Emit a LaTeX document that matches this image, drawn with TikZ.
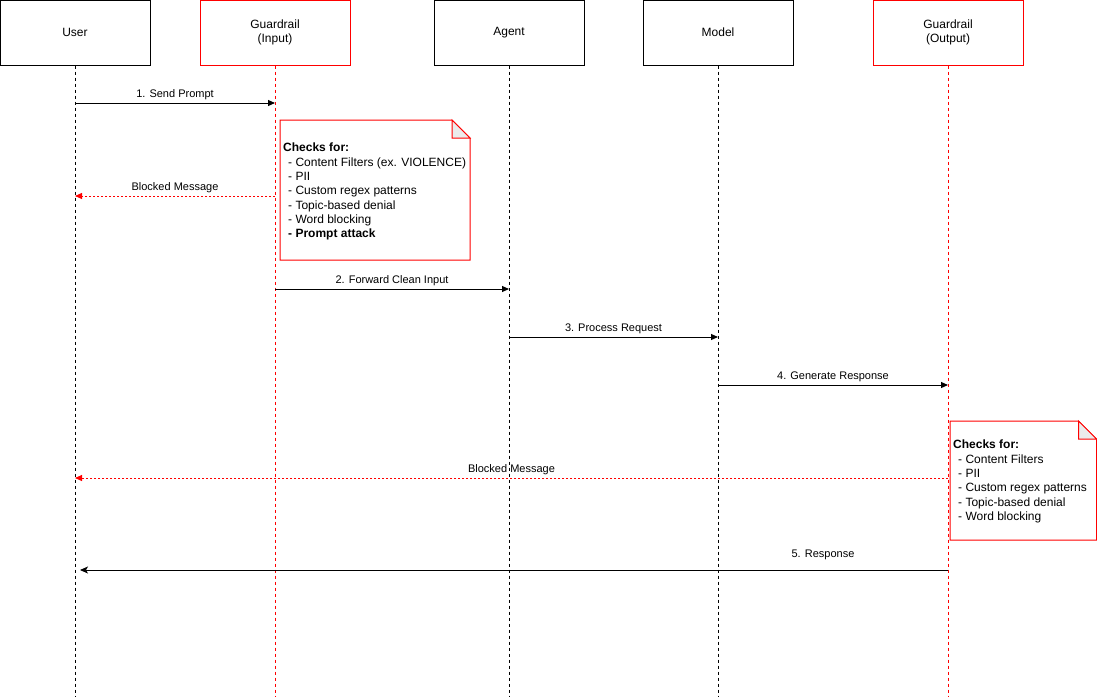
\documentclass[tikz,border=0pt]{standalone}
\usepackage{fontspec}
\setmainfont{Liberation Sans}
\usetikzlibrary{arrows.meta}

\definecolor{guardred}{RGB}{255,0,0}
\definecolor{foldgray}{RGB}{235,235,235}

\tikzset{
  actor/.style={draw, line width=1pt, minimum width=150, minimum height=65, inner sep=0pt, align=center, font=\fontsize{12}{14}\selectfont},
  guard/.style={actor, draw=guardred},
  lifeline/.style={line width=0.8pt, dash pattern=on 3pt off 3pt},
  msg/.style={line width=1pt, -{Triangle[length=7pt,width=6pt]}},
  blocked/.style={line width=1pt, draw=guardred, dash pattern=on 2pt off 2pt, -{Triangle[length=7pt,width=6pt,fill=guardred]}},
  reply/.style={line width=1pt, -{Stealth[length=8pt,width=7pt,inset=2pt]}},
  msglabel/.style={above, inner sep=3pt, font=\fontsize{11}{13}\selectfont},
  notetext/.style={anchor=north west, inner sep=0pt, align=left, font=\fontsize{12}{14.3}\selectfont}
}

\begin{document}
\begin{tikzpicture}[x=1pt,y=1pt,yscale=-1,xscale=1]
\useasboundingbox (0,0) rectangle (1097,697);

% Participants
\node[actor] (user) at (75,32.5) {User};
\node[guard] (gin) at (275,32.5) {Guardrail\\(Input)};
\node[actor] (agent) at (509,32.5) {Agent};
\node[actor] (model) at (718,32.5) {Model};
\node[guard] (gout) at (948,32.5) {Guardrail\\(Output)};

% Lifeline ends
\coordinate (userend) at (75,697);
\coordinate (ginend) at (275,697);
\coordinate (agentend) at (509,697);
\coordinate (modelend) at (718,697);
\coordinate (goutend) at (948,697);

% Lifelines
\draw[lifeline] (user.south) -- (userend);
\draw[lifeline, draw=guardred] (gin.south) -- (ginend);
\draw[lifeline] (agent.south) -- (agentend);
\draw[lifeline] (model.south) -- (modelend);
\draw[lifeline, draw=guardred] (gout.south) -- (goutend);

% Message points
\coordinate (u1) at (75,103);   \coordinate (gi1) at (275,103);
\coordinate (gi2) at (275,196); \coordinate (u2) at (75,196);
\coordinate (gi3) at (275,289); \coordinate (a3) at (509,289);
\coordinate (a4) at (509,337);  \coordinate (m4) at (718,337);
\coordinate (m5) at (718,385);  \coordinate (go5) at (948,385);
\coordinate (go6) at (948,478); \coordinate (u6) at (75,478);
\coordinate (go7) at (948,570); \coordinate (u7) at (80,570);

% Messages
\draw[msg] (u1) -- node[msglabel] {1. Send Prompt} (gi1);
\draw[blocked] (gi2) -- node[msglabel] {Blocked Message} (u2);
\draw[msg] (gi3) -- node[msglabel] {2. Forward Clean Input} (a3);
\draw[msg] (a4) -- node[msglabel] {3. Process Request} (m4);
\draw[msg] (m5) -- node[msglabel] {4. Generate Response} (go5);
\draw[blocked] (go6) -- node[msglabel] {Blocked Message} (u6);
\draw[reply] (go7) -- node[msglabel, pos=0.144, yshift=7pt] {5. Response} (u7);

% Note: input checks
\draw[guardred, line width=1pt, fill=white] (280,120) -- (452,120) -- (470,138) -- (470,260) -- (280,260) -- cycle;
\draw[guardred, line width=1pt, fill=foldgray] (452,120) -- (452,138) -- (470,138) -- cycle;
\node[notetext] (incheck) at (283,143) {\textbf{Checks for:}\\
  \hspace*{5pt}- Content Filters (ex. VIOLENCE)\\
  \hspace*{5pt}- PII\\
  \hspace*{5pt}- Custom regex patterns\\
  \hspace*{5pt}- Topic-based denial\\
  \hspace*{5pt}- Word blocking\\
  \hspace*{5pt}\textbf{- Prompt attack}};

% Note: output checks
\draw[guardred, line width=1pt, fill=white] (950,421) -- (1078.5,421) -- (1096.5,439) -- (1096.5,540) -- (950,540) -- cycle;
\draw[guardred, line width=1pt, fill=foldgray] (1078.5,421) -- (1078.5,439) -- (1096.5,439) -- cycle;
\node[notetext] (outcheck) at (953,440) {\textbf{Checks for:}\\
  \hspace*{5pt}- Content Filters\\
  \hspace*{5pt}- PII\\
  \hspace*{5pt}- Custom regex patterns\\
  \hspace*{5pt}- Topic-based denial\\
  \hspace*{5pt}- Word blocking};

\end{tikzpicture}
\end{document}
